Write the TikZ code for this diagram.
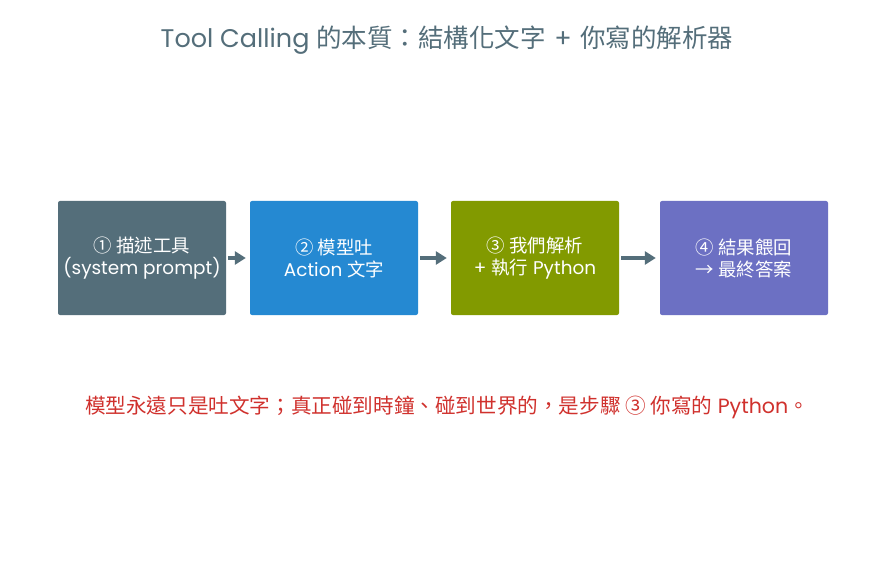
\documentclass[tikz,border=0pt]{standalone}
\usepackage{fontspec}
\setmainfont{Poppins}
\newfontfamily\cjk{Noto Sans CJK TC}
\usetikzlibrary{arrows.meta}
\definecolor{slate}{HTML}{546E7A}
\definecolor{stepblue}{HTML}{2589D2}
\definecolor{stepolive}{HTML}{829A00}
\definecolor{stepviolet}{HTML}{6C70C3}
\definecolor{notered}{HTML}{D0312D}
\begin{document}
\begin{tikzpicture}[x=1pt,y=-1pt]
        \tikzstyle{stage}=[rounded corners=2pt,minimum width=168pt,minimum height=114pt,inner sep=0pt,text=white,align=center,font=\fontsize{18.4}{22}\selectfont]
        \tikzstyle{flow}=[draw=slate,line width=3.8pt,shorten <=2pt,shorten >=4pt,-{Triangle[length=11pt,width=13pt]}]
        \useasboundingbox[fill=white] (0,0) rectangle (894,564);
        \node [text=slate,font=\fontsize{25.5}{30}\selectfont] (title) at (447,40)
          {Tool Calling {\cjk 的本質：結構化文字}\,\,+\,\,{\cjk 你寫的解析器}};
        \node [stage,fill=slate] (s1) at (142,258) {{\cjk ① 描述工具}\\(system prompt)};
        \node [stage,fill=stepblue] (s2) at (334,258) {{\cjk ② 模型吐}\\Action {\cjk 文字}};
        \node [stage,fill=stepolive] (s3) at (535,258) {{\cjk ③ 我們解析}\\+ {\cjk 執行} Python};
        \node [stage,fill=stepviolet] (s4) at (744,258) {{\cjk ④ 結果餵回}\\{\cjk → 最終答案}};
        \path[flow] (s1) -- (s2);
        \path[flow] (s2) -- (s3);
        \path[flow] (s3) -- (s4);
        \node [text=notered,font=\fontsize{20.6}{24}\selectfont] (note) at (447,407)
          {{\cjk 模型永遠只是吐文字；真正碰到時鐘、碰到世界的，是步驟 ③ 你寫的} Python{\cjk 。}};
\end{tikzpicture}
\end{document}
